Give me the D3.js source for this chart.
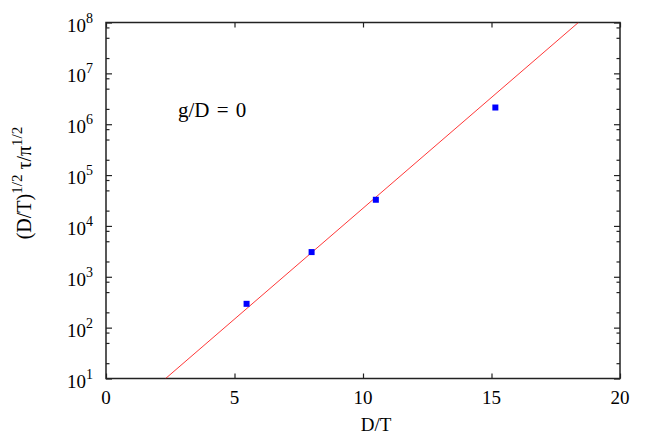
<!DOCTYPE html>
<html>
<head>
<meta charset="utf-8">
<script src="https://cdn.jsdelivr.net/npm/d3@7"></script>
<style>
  body { margin: 0; background: #fff; }
</style>
</head>
<body>
<div class="canvas"></div>
<script>
// data
const dt = [5.47, 8.0, 10.5, 15.15];          // D/T
const tau = [294, 3060, 32700, 2.13e6];      // (D/T)^1/2 tau / pi^1/2
const fitX = [2.32, 18.38];                  // red line end points
const fitY = [1e1, 1e8];
const xTicks = [0, 5, 10, 15, 20];
const yExps = [1, 2, 3, 4, 5, 6, 7, 8];
const minorMult = [2, 5, 8];

const width = 654, height = 436;
const margin = { top: 22.5, right: 34, bottom: 57.5, left: 106 };
const serif = "'Liberation Serif', 'Times New Roman', Times, 'DejaVu Serif', serif";

const svg = d3.select('.canvas')
    .append('svg')
    .attr('width', width)
    .attr('height', height)
    .attr('font-family', serif)
    .style('font-family', serif);

const x = d3.scaleLinear()
    .domain([0, 20])
    .range([margin.left, width - margin.right]);

const y = d3.scaleLog()
    .domain([1e1, 1e8])
    .range([height - margin.bottom, margin.top]);

// minor tick values on the log axis
const minors = [];
yExps.slice(0, -1).forEach(e => minorMult.forEach(m => minors.push(m * Math.pow(10, e))));
const majors = yExps.map(e => Math.pow(10, e));

const axisColor = '#222';

// clip for the fit line
svg.append('clipPath').attr('id', 'plot')
  .append('rect')
    .attr('x', x(0)).attr('y', y(1e8))
    .attr('width', x(20) - x(0)).attr('height', y(1e1) - y(1e8));

// ticks (drawn inward)
function ticks(axis, vals, size) {
    return axis.tickValues(vals).tickSize(size).tickSizeOuter(0).tickFormat('');
}
const tickGroups = [
    svg.append('g').attr('transform', `translate(0, ${y(1e1)})`).call(ticks(d3.axisBottom(x), xTicks, -5)),
    svg.append('g').attr('transform', `translate(0, ${y(1e8)})`).call(ticks(d3.axisTop(x), xTicks, -5)),
    svg.append('g').attr('transform', `translate(${x(0)}, 0)`).call(ticks(d3.axisLeft(y), majors, -6)),
    svg.append('g').attr('transform', `translate(${x(20)}, 0)`).call(ticks(d3.axisRight(y), majors, -6)),
    svg.append('g').attr('transform', `translate(${x(0)}, 0)`).call(ticks(d3.axisLeft(y), minors, -3.5)),
    svg.append('g').attr('transform', `translate(${x(20)}, 0)`).call(ticks(d3.axisRight(y), minors, -3.5))
];
tickGroups.forEach(g => {
    g.select('.domain').remove();
    g.selectAll('line').attr('stroke', axisColor).attr('stroke-width', 1.2);
});

// frame
svg.append('rect')
    .attr('x', x(0)).attr('y', y(1e8))
    .attr('width', x(20) - x(0)).attr('height', y(1e1) - y(1e8))
    .attr('fill', 'none')
    .attr('stroke', axisColor)
    .attr('stroke-width', 1.5);

// x tick labels
svg.append('g').selectAll('text')
    .data(xTicks)
    .enter()
    .append('text')
    .attr('x', d => x(d))
    .attr('y', 404)
    .attr('text-anchor', 'middle')
    .attr('font-size', 19)
    .text(d => d);

// y tick labels 10^n
const ylab = svg.append('g').selectAll('text')
    .data(yExps)
    .enter()
    .append('text')
    .attr('x', 93)
    .attr('y', d => y(Math.pow(10, d)) + 9)
    .attr('text-anchor', 'end')
    .attr('font-size', 19);
ylab.append('tspan').text('10');
ylab.append('tspan').attr('dy', -9).attr('font-size', 14).text(d => d);

// axis titles
svg.append('text')
    .attr('x', 376)
    .attr('y', 431)
    .attr('text-anchor', 'middle')
    .attr('font-size', 19)
    .text('D/T');

const yt = svg.append('text')
    .attr('transform', 'translate(31, 183) rotate(-90)')
    .attr('text-anchor', 'middle')
    .attr('font-size', 20);
yt.append('tspan').text('(D/T)');
yt.append('tspan').attr('dy', -9).attr('font-size', 15).text('1/2');
yt.append('tspan').attr('dy', 9).text(' \u03c4/\u03c0');
yt.append('tspan').attr('dy', -9).attr('font-size', 15).text('1/2');

// annotation
svg.append('text')
    .attr('x', 178)
    .attr('y', 117)
    .attr('font-size', 21)
    .attr('word-spacing', 2)
    .text('g/D = 0');

// fit line
const line = d3.line()
    .x(d => x(d[0]))
    .y(d => y(d[1]));

svg.append('path')
    .datum(d3.zip(fitX, fitY))
    .attr('d', line)
    .attr('clip-path', 'url(#plot)')
    .attr('fill', 'none')
    .attr('stroke', '#ff2020')
    .attr('stroke-width', 0.9);

// data points
svg.append('g').selectAll('rect')
    .data(d3.zip(dt, tau))
    .enter()
    .append('rect')
    .attr('x', d => x(d[0]) - 3)
    .attr('y', d => y(d[1]) - 3)
    .attr('width', 6)
    .attr('height', 6)
    .attr('fill', '#0000ff');
</script>
</body>
</html>
